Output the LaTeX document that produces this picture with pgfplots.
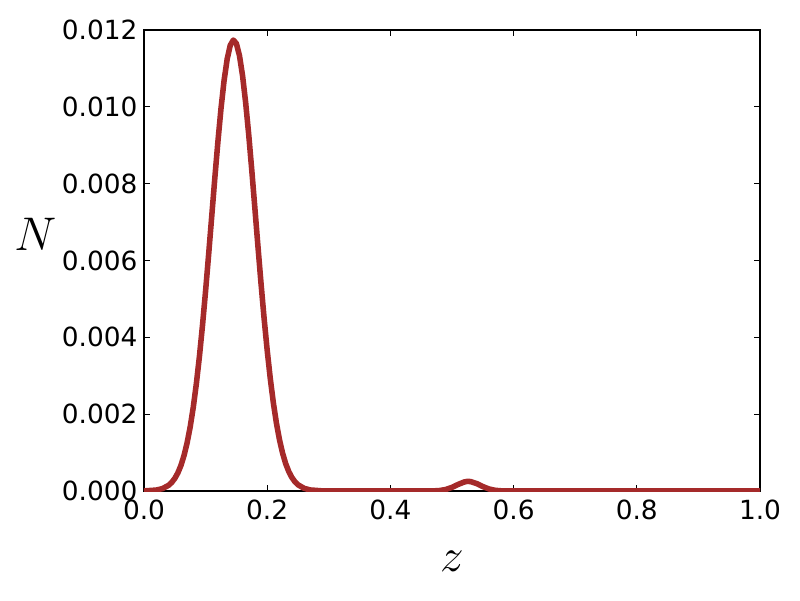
\RequirePackage{fix-cm}
\documentclass[border=0pt]{standalone}
\usepackage{fontspec}
\setmainfont{DejaVu Sans}
\usepackage{pgfplots}
\pgfplotsset{compat=1.18}
\definecolor{curvebrown}{HTML}{A52A2A}

\begin{document}
\begin{tikzpicture}
\begin{axis}[
    scale only axis,
    width=443.52pt, height=331.92pt,
    xmin=0, xmax=1, ymin=0, ymax=0.012,
    xtick={0,0.2,0.4,0.6,0.8,1.0},
    ytick={0,0.002,0.004,0.006,0.008,0.010,0.012},
    scaled y ticks=false, scaled x ticks=false,
    tick align=inside, tick pos=both,
    major tick length=4pt,
    axis line style={line width=0.8pt},
    every tick/.style={black, line width=0.7pt},
    /pgf/number format/assume math mode=true,
    xticklabel style={font=\fontsize{19}{21}\selectfont, anchor=base, yshift=-20.2pt,
        /pgf/number format/.cd, fixed, fixed zerofill, precision=1},
    yticklabel style={font=\fontsize{19}{21}\selectfont, anchor=east, inner sep=0pt, xshift=-4.5pt,
        /pgf/number format/.cd, fixed, fixed zerofill, precision=3},
    xlabel={$z$},
    ylabel={$N$},
    every axis x label/.style={at={(rel axis cs:0.5,0)}, anchor=center, yshift=-50.4pt,
        font=\fontsize{34}{40}\selectfont},
    every axis y label/.style={at={(rel axis cs:0,0.5575)}, anchor=center, xshift=-78.2pt,
        font=\fontsize{34}{40}\selectfont},
    clip=true,
]
\addplot[color=curvebrown, line width=4pt, line join=round] coordinates {
 (0.000,0.0000029) (0.020,0.0000243) (0.030,0.0000626) (0.040,0.000149)
 (0.045,0.000223) (0.050,0.000328) (0.055,0.000472) (0.060,0.000667)
 (0.065,0.000924) (0.070,0.001255) (0.075,0.001670) (0.080,0.002181)
 (0.085,0.002793) (0.090,0.003506) (0.095,0.004317) (0.100,0.005211)
 (0.105,0.006169) (0.110,0.007160) (0.115,0.008151) (0.120,0.009096)
 (0.125,0.009955) (0.130,0.010684) (0.135,0.011243) (0.140,0.011601)
 (0.145,0.011739) (0.150,0.011647) (0.155,0.011332) (0.160,0.010811)
 (0.165,0.010113) (0.170,0.009277) (0.175,0.008345) (0.180,0.007360)
 (0.185,0.006366) (0.190,0.005399) (0.195,0.004490) (0.200,0.003661)
 (0.205,0.002927) (0.210,0.002295) (0.215,0.001765) (0.220,0.001330)
 (0.225,0.000984) (0.230,0.000713) (0.235,0.000507) (0.240,0.000353)
 (0.245,0.000241) (0.250,0.000162) (0.260,0.000069) (0.270,0.000027)
 (0.290,0.000003) (0.300,0) (0.400,0) (0.460,0.0000006)
 (0.470,0.0000030) (0.480,0.0000125) (0.490,0.0000395) (0.500,0.0000945)
 (0.510,0.0001715) (0.520,0.000236) (0.525,0.000250) (0.530,0.000246)
 (0.540,0.000194) (0.550,0.000116) (0.560,0.000053) (0.570,0.000018)
 (0.580,0.0000047) (0.590,0.0000010) (0.600,0) (0.800,0) (1.000,0)
};
\coordinate (sw) at (rel axis cs:0,0);
\end{axis}
\path (sw) ++(-103.68pt,-78.48pt) rectangle ++(576pt,432pt);
\end{tikzpicture}
\end{document}
